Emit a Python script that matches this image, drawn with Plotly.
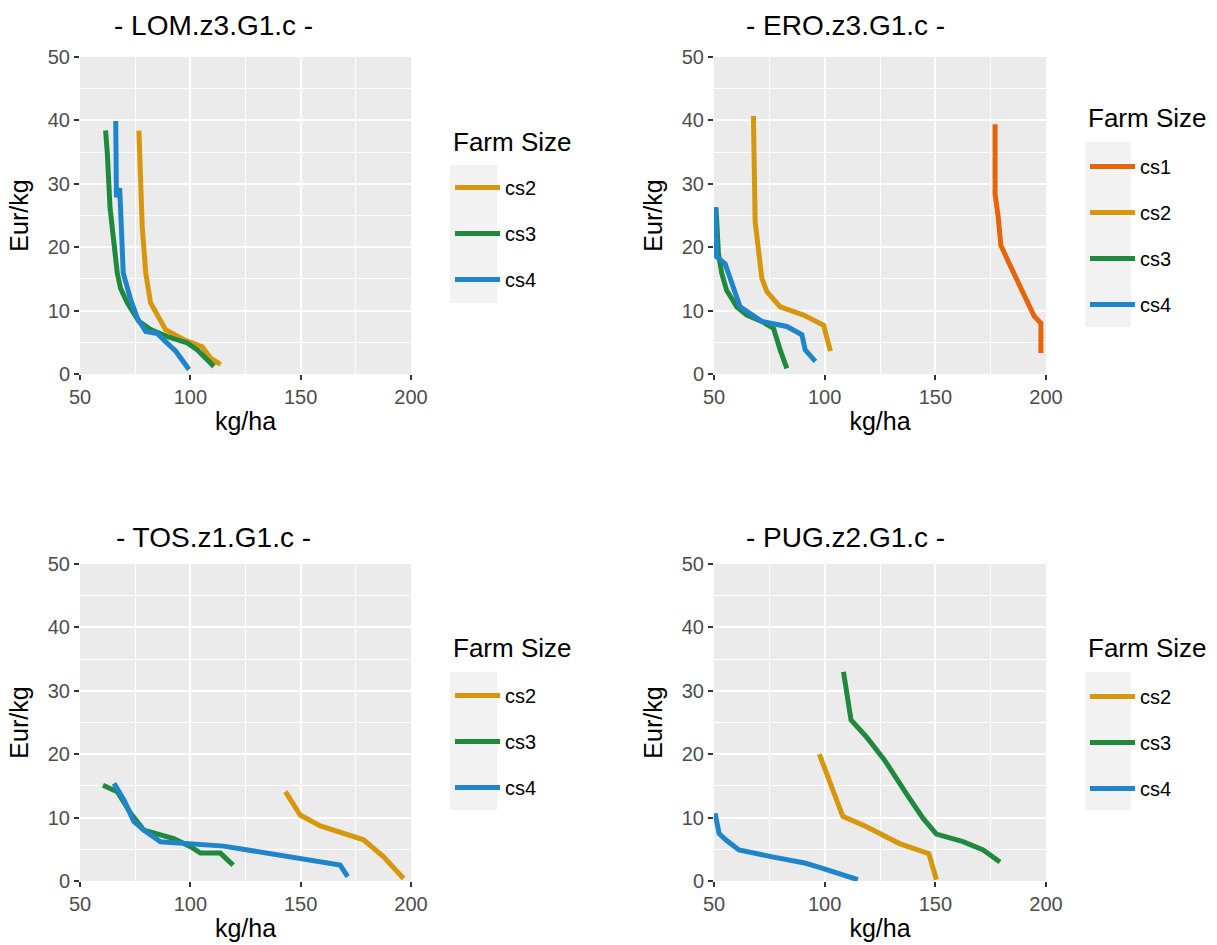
import plotly.graph_objects as go

W, H = 1217, 945

COLORS = {"cs1": "#E6650C", "cs2": "#D6970D", "cs3": "#1F8A3E", "cs4": "#1F85CA"}

panel_titles = ["- LOM.z3.G1.c -", "- ERO.z3.G1.c -", "- TOS.z1.G1.c -", "- PUG.z2.G1.c -"]
legend_title = "Farm Size"
x_ticks = [50, 100, 150, 200]
y_ticks = [0, 10, 20, 30, 40, 50]

# ---- LOM.z3.G1.c ----
lom_cs2_x = [76.7, 77.5, 78.2, 79.8, 82.0, 88.8, 97.1, 105.4, 109.2, 113.7]
lom_cs2_y = [38.4, 30.5, 23.2, 15.9, 11.2, 7.0, 5.4, 4.3, 2.5, 1.5]
lom_cs3_x = [61.6, 62.4, 63.6, 65.4, 66.9, 68.4, 71.5, 76.7, 82.0, 89.6, 98.6, 103.2, 110.7]
lom_cs3_y = [38.4, 34.7, 26.3, 20.1, 15.9, 13.5, 11.2, 8.3, 7.0, 5.9, 4.9, 3.8, 1.2]
lom_cs4_x = [66.2, 66.5, 68.0, 68.7, 69.6, 73.0, 76.0, 79.8, 85.0, 88.8, 93.4, 99.4]
lom_cs4_y = [39.9, 27.9, 29.3, 21.1, 15.9, 11.7, 8.8, 6.7, 6.4, 5.1, 3.6, 0.7]

# ---- ERO.z3.G1.c ----
ero_cs1_x = [177.0, 177.0, 178.4, 179.6, 184.1, 190.2, 194.7, 197.7, 197.7]
ero_cs1_y = [39.4, 28.4, 24.8, 20.3, 16.9, 12.2, 9.1, 8.0, 3.3]
ero_cs2_x = [67.8, 68.6, 71.6, 73.9, 79.9, 90.5, 99.5, 101.1, 102.6]
ero_cs2_y = [40.7, 24.0, 15.1, 13.0, 10.6, 9.3, 7.7, 5.9, 3.6]
ero_cs3_x = [50.9, 52.0, 53.5, 55.7, 60.3, 64.8, 71.6, 76.9, 79.9, 82.2, 82.9]
ero_cs3_y = [26.3, 19.0, 15.9, 13.2, 10.6, 9.3, 8.3, 7.2, 3.8, 1.7, 0.9]
ero_cs4_x = [50.5, 51.2, 55.0, 58.8, 61.8, 71.6, 82.9, 89.7, 91.2, 95.8]
ero_cs4_y = [26.3, 18.5, 17.4, 13.8, 10.6, 8.3, 7.5, 6.2, 3.8, 2.0]

# ---- TOS.z1.G1.c ----
tos_cs2_x = [143.1, 149.8, 158.9, 178.5, 187.6, 196.6]
tos_cs2_y = [14.1, 10.4, 8.7, 6.5, 3.8, 0.4]
tos_cs3_x = [60.4, 66.9, 72.9, 79.0, 92.5, 100.1, 104.6, 113.6, 119.4]
tos_cs3_y = [15.1, 14.1, 10.7, 8.0, 6.7, 5.4, 4.4, 4.4, 2.5]
tos_cs4_x = [65.4, 69.9, 74.4, 79.0, 86.5, 97.1, 115.2, 167.9, 169.5, 171.3]
tos_cs4_y = [15.4, 12.8, 9.4, 8.0, 6.2, 5.9, 5.5, 2.5, 1.7, 0.7]

# ---- PUG.z2.G1.c ----
pug_cs2_x = [97.6, 108.2, 118.7, 133.8, 147.1, 150.5]
pug_cs2_y = [20.0, 10.2, 8.6, 5.9, 4.3, 0.2]
pug_cs3_x = [108.5, 111.9, 118.7, 127.0, 136.9, 144.4, 150.5, 162.5, 171.6, 179.2]
pug_cs3_y = [33.0, 25.4, 22.8, 19.1, 13.8, 9.9, 7.4, 6.2, 4.9, 3.0]
pug_cs4_x = [50.5, 52.3, 55.3, 61.3, 76.4, 91.5, 99.1, 115.0]
pug_cs4_y = [10.7, 7.5, 6.5, 4.9, 3.8, 2.8, 2.0, 0.2]

panels = [
    [("cs2", lom_cs2_x, lom_cs2_y), ("cs3", lom_cs3_x, lom_cs3_y), ("cs4", lom_cs4_x, lom_cs4_y)],
    [("cs1", ero_cs1_x, ero_cs1_y), ("cs2", ero_cs2_x, ero_cs2_y), ("cs3", ero_cs3_x, ero_cs3_y), ("cs4", ero_cs4_x, ero_cs4_y)],
    [("cs2", tos_cs2_x, tos_cs2_y), ("cs3", tos_cs3_x, tos_cs3_y), ("cs4", tos_cs4_x, tos_cs4_y)],
    [("cs2", pug_cs2_x, pug_cs2_y), ("cs3", pug_cs3_x, pug_cs3_y), ("cs4", pug_cs4_x, pug_cs4_y)],
]

# pixel geometry of panels: (left, right, top, bottom)
geom = [(80, 411, 57, 374), (714, 1046, 57, 374), (80, 411, 564, 881), (714, 1046, 564, 881)]
title_pos = [(213, 25), (845, 25), (213, 537), (845, 537)]
legend_title_pos = [(451, 142), (1086, 118), (451, 648), (1086, 648)]
legend_pos = [(450, 168), (1085, 147), (450, 676), (1085, 677)]
keybox = [(450, 497, 165, 303), (1085, 1131, 142, 327), (450, 497, 672, 810), (1085, 1131, 672, 810)]

FONT = "Arial, Liberation Sans, sans-serif"
fig = go.Figure()
layout = dict(
    width=W, height=H, margin=dict(l=0, r=0, t=0, b=0, autoexpand=False),
    paper_bgcolor="white", plot_bgcolor="#EBEBEB",
    font=dict(family=FONT, color="black"),
    annotations=[], shapes=[],
)

for i, series in enumerate(panels):
    n = i + 1
    xa = "x" if n == 1 else f"x{n}"
    ya = "y" if n == 1 else f"y{n}"
    lg = "legend" if n == 1 else f"legend{n}"
    for name, xs, ys in series:
        fig.add_trace(go.Scatter(
            x=xs, y=ys, mode="lines", name=name,
            line=dict(color=COLORS[name], width=5),
            xaxis=xa, yaxis=ya, legend=lg, legendgroup=f"{n}{name}",
            showlegend=True,
        ))
    l, r, t, b = geom[i]
    axcommon = dict(
        showgrid=True, gridcolor="white", gridwidth=1.6, zeroline=False,
        ticks="outside", ticklen=5, tickwidth=1.5, tickcolor="#333333",
        tickfont=dict(size=20, color="#4D4D4D", family=FONT),
        showline=False, automargin=False,
        title_font=dict(size=25, color="black", family=FONT),
    )
    layout["xaxis" if n == 1 else f"xaxis{n}"] = dict(
        axcommon, domain=[l / W, r / W], range=[50, 200], tickvals=x_ticks,
        anchor=ya, title=dict(text="kg/ha", standoff=5),
        minor=dict(tickvals=[75, 125, 175], showgrid=True, gridcolor="white", gridwidth=0.8, ticks=""),
    )
    layout["yaxis" if n == 1 else f"yaxis{n}"] = dict(
        axcommon, domain=[1 - b / H, 1 - t / H], range=[0, 50], tickvals=y_ticks,
        anchor=xa, title=dict(text="Eur/kg", standoff=12),
        minor=dict(tickvals=[5, 15, 25, 35, 45], showgrid=True, gridcolor="white", gridwidth=0.8, ticks=""),
    )
    tx, ty = title_pos[i]
    layout["annotations"].append(dict(
        text=panel_titles[i], x=tx / W, y=1 - ty / H, xref="paper", yref="paper",
        xanchor="center", yanchor="middle", showarrow=False,
        font=dict(size=28, color="black", family=FONT),
    ))
    ltx, lty = legend_title_pos[i]
    layout["annotations"].append(dict(
        text=legend_title, x=ltx / W, y=1 - lty / H, xref="paper", yref="paper",
        xanchor="left", yanchor="middle", showarrow=False,
        font=dict(size=26, color="black", family=FONT),
    ))
    lx, ly = legend_pos[i]
    layout[lg] = dict(
        x=lx / W, y=1 - ly / H, xanchor="left", yanchor="top",
        xref="paper", yref="paper",
        font=dict(size=20, color="black", family=FONT),
        bgcolor="rgba(0,0,0,0)", traceorder="grouped", tracegroupgap=17,
        itemwidth=45, itemclick=False,
    )
    kx0, kx1, ky0, ky1 = keybox[i]
    layout["shapes"].append(dict(
        type="rect", xref="paper", yref="paper",
        x0=kx0 / W, x1=kx1 / W, y0=1 - ky1 / H, y1=1 - ky0 / H,
        fillcolor="#F2F2F2", line=dict(width=0), layer="below",
    ))

fig.update_layout(**layout)
fig.write_html("out.html")
